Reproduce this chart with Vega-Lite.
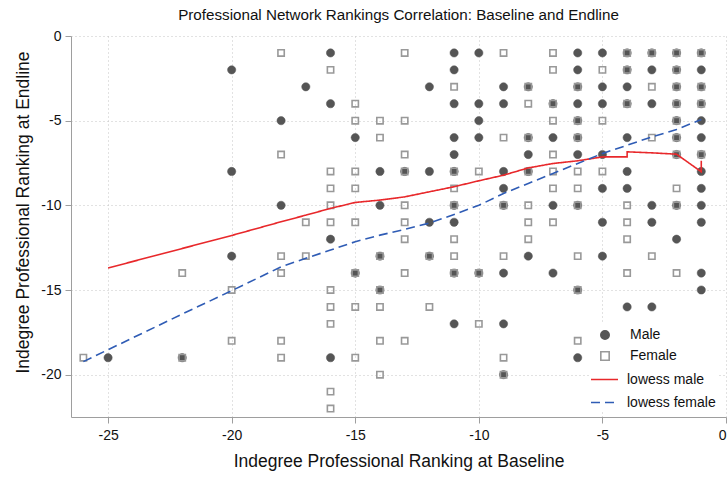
{
  "$schema": "https://vega.github.io/schema/vega-lite/v6.json",
  "width": 655,
  "height": 381,
  "autosize": "none",
  "padding": {"left": 71, "top": 36, "right": 2, "bottom": 60},
  "title": {"text": "Professional Network Rankings Correlation: Baseline and Endline", "fontSize": 15.2, "fontWeight": "normal", "font": "Liberation Sans", "color": "#111111", "offset": 6},
  "datasets": {
    "pts": [
      {"x":-25,"y":-19,"sex":"Male"},{"x":-22,"y":-19,"sex":"Male"},
      {"x":-20,"y":-2,"sex":"Male"},{"x":-20,"y":-8,"sex":"Male"},{"x":-20,"y":-13,"sex":"Male"},
      {"x":-18,"y":-5,"sex":"Male"},{"x":-18,"y":-10,"sex":"Male"},
      {"x":-17,"y":-3,"sex":"Male"},
      {"x":-16,"y":-1,"sex":"Male"},{"x":-16,"y":-4,"sex":"Male"},{"x":-16,"y":-12,"sex":"Male"},{"x":-16,"y":-19,"sex":"Male"},
      {"x":-15,"y":-6,"sex":"Male"},{"x":-15,"y":-14,"sex":"Male"},
      {"x":-14,"y":-8,"sex":"Male"},{"x":-14,"y":-10,"sex":"Male"},{"x":-14,"y":-13,"sex":"Male"},{"x":-14,"y":-15,"sex":"Male"},
      {"x":-13,"y":-8,"sex":"Male"},
      {"x":-12,"y":-3,"sex":"Male"},{"x":-12,"y":-8,"sex":"Male"},{"x":-12,"y":-11,"sex":"Male"},{"x":-12,"y":-13,"sex":"Male"},
      {"x":-11,"y":-1,"sex":"Male"},{"x":-11,"y":-2,"sex":"Male"},{"x":-11,"y":-4,"sex":"Male"},{"x":-11,"y":-6,"sex":"Male"},{"x":-11,"y":-7,"sex":"Male"},{"x":-11,"y":-8,"sex":"Male"},{"x":-11,"y":-10,"sex":"Male"},{"x":-11,"y":-11,"sex":"Male"},{"x":-11,"y":-14,"sex":"Male"},{"x":-11,"y":-17,"sex":"Male"},
      {"x":-10,"y":-1,"sex":"Male"},{"x":-10,"y":-4,"sex":"Male"},{"x":-10,"y":-5,"sex":"Male"},{"x":-10,"y":-6,"sex":"Male"},{"x":-10,"y":-14,"sex":"Male"},
      {"x":-9,"y":-3,"sex":"Male"},{"x":-9,"y":-4,"sex":"Male"},{"x":-9,"y":-8,"sex":"Male"},{"x":-9,"y":-9,"sex":"Male"},{"x":-9,"y":-10,"sex":"Male"},{"x":-9,"y":-14,"sex":"Male"},{"x":-9,"y":-17,"sex":"Male"},{"x":-9,"y":-20,"sex":"Male"},
      {"x":-8,"y":-3,"sex":"Male"},{"x":-8,"y":-6,"sex":"Male"},{"x":-8,"y":-7,"sex":"Male"},{"x":-8,"y":-8,"sex":"Male"},{"x":-8,"y":-13,"sex":"Male"},
      {"x":-7,"y":-4,"sex":"Male"},{"x":-7,"y":-6,"sex":"Male"},{"x":-7,"y":-10,"sex":"Male"},{"x":-7,"y":-14,"sex":"Male"},
      {"x":-6,"y":-1,"sex":"Male"},{"x":-6,"y":-2,"sex":"Male"},{"x":-6,"y":-3,"sex":"Male"},{"x":-6,"y":-4,"sex":"Male"},{"x":-6,"y":-5,"sex":"Male"},{"x":-6,"y":-6,"sex":"Male"},{"x":-6,"y":-7,"sex":"Male"},{"x":-6,"y":-10,"sex":"Male"},{"x":-6,"y":-15,"sex":"Male"},{"x":-6,"y":-19,"sex":"Male"},
      {"x":-5,"y":-1,"sex":"Male"},{"x":-5,"y":-3,"sex":"Male"},{"x":-5,"y":-4,"sex":"Male"},{"x":-5,"y":-7,"sex":"Male"},{"x":-5,"y":-9,"sex":"Male"},{"x":-5,"y":-11,"sex":"Male"},{"x":-5,"y":-13,"sex":"Male"},
      {"x":-4,"y":-1,"sex":"Male"},{"x":-4,"y":-2,"sex":"Male"},{"x":-4,"y":-3,"sex":"Male"},{"x":-4,"y":-4,"sex":"Male"},{"x":-4,"y":-6,"sex":"Male"},{"x":-4,"y":-8,"sex":"Male"},{"x":-4,"y":-9,"sex":"Male"},{"x":-4,"y":-16,"sex":"Male"},
      {"x":-3,"y":-1,"sex":"Male"},{"x":-3,"y":-2,"sex":"Male"},{"x":-3,"y":-4,"sex":"Male"},{"x":-3,"y":-10,"sex":"Male"},{"x":-3,"y":-11,"sex":"Male"},{"x":-3,"y":-16,"sex":"Male"},
      {"x":-2,"y":-1,"sex":"Male"},{"x":-2,"y":-2,"sex":"Male"},{"x":-2,"y":-3,"sex":"Male"},{"x":-2,"y":-4,"sex":"Male"},{"x":-2,"y":-5,"sex":"Male"},{"x":-2,"y":-6,"sex":"Male"},{"x":-2,"y":-7,"sex":"Male"},{"x":-2,"y":-10,"sex":"Male"},{"x":-2,"y":-12,"sex":"Male"},
      {"x":-1,"y":-1,"sex":"Male"},{"x":-1,"y":-2,"sex":"Male"},{"x":-1,"y":-3,"sex":"Male"},{"x":-1,"y":-4,"sex":"Male"},{"x":-1,"y":-5,"sex":"Male"},{"x":-1,"y":-6,"sex":"Male"},{"x":-1,"y":-7,"sex":"Male"},{"x":-1,"y":-8,"sex":"Male"},{"x":-1,"y":-9,"sex":"Male"},{"x":-1,"y":-10,"sex":"Male"},{"x":-1,"y":-11,"sex":"Male"},{"x":-1,"y":-14,"sex":"Male"},{"x":-1,"y":-15,"sex":"Male"},
      {"x":-26,"y":-19,"sex":"Female"},
      {"x":-22,"y":-14,"sex":"Female"},{"x":-22,"y":-19,"sex":"Female"},
      {"x":-20,"y":-15,"sex":"Female"},{"x":-20,"y":-18,"sex":"Female"},
      {"x":-18,"y":-1,"sex":"Female"},{"x":-18,"y":-7,"sex":"Female"},{"x":-18,"y":-13,"sex":"Female"},{"x":-18,"y":-14,"sex":"Female"},{"x":-18,"y":-18,"sex":"Female"},{"x":-18,"y":-19,"sex":"Female"},
      {"x":-17,"y":-11,"sex":"Female"},{"x":-17,"y":-13,"sex":"Female"},
      {"x":-16,"y":-2,"sex":"Female"},{"x":-16,"y":-8,"sex":"Female"},{"x":-16,"y":-9,"sex":"Female"},{"x":-16,"y":-10,"sex":"Female"},{"x":-16,"y":-11,"sex":"Female"},{"x":-16,"y":-15,"sex":"Female"},{"x":-16,"y":-16,"sex":"Female"},{"x":-16,"y":-17,"sex":"Female"},{"x":-16,"y":-21,"sex":"Female"},{"x":-16,"y":-22,"sex":"Female"},
      {"x":-15,"y":-4,"sex":"Female"},{"x":-15,"y":-5,"sex":"Female"},{"x":-15,"y":-8,"sex":"Female"},{"x":-15,"y":-9,"sex":"Female"},{"x":-15,"y":-11,"sex":"Female"},{"x":-15,"y":-14,"sex":"Female"},{"x":-15,"y":-16,"sex":"Female"},{"x":-15,"y":-19,"sex":"Female"},
      {"x":-14,"y":-5,"sex":"Female"},{"x":-14,"y":-6,"sex":"Female"},{"x":-14,"y":-13,"sex":"Female"},{"x":-14,"y":-15,"sex":"Female"},{"x":-14,"y":-16,"sex":"Female"},{"x":-14,"y":-18,"sex":"Female"},{"x":-14,"y":-20,"sex":"Female"},
      {"x":-13,"y":-1,"sex":"Female"},{"x":-13,"y":-5,"sex":"Female"},{"x":-13,"y":-7,"sex":"Female"},{"x":-13,"y":-8,"sex":"Female"},{"x":-13,"y":-10,"sex":"Female"},{"x":-13,"y":-11,"sex":"Female"},{"x":-13,"y":-12,"sex":"Female"},{"x":-13,"y":-14,"sex":"Female"},{"x":-13,"y":-18,"sex":"Female"},
      {"x":-12,"y":-13,"sex":"Female"},{"x":-12,"y":-16,"sex":"Female"},
      {"x":-11,"y":-3,"sex":"Female"},{"x":-11,"y":-8,"sex":"Female"},{"x":-11,"y":-9,"sex":"Female"},{"x":-11,"y":-10,"sex":"Female"},{"x":-11,"y":-12,"sex":"Female"},{"x":-11,"y":-13,"sex":"Female"},{"x":-11,"y":-14,"sex":"Female"},
      {"x":-10,"y":-8,"sex":"Female"},{"x":-10,"y":-14,"sex":"Female"},{"x":-10,"y":-17,"sex":"Female"},
      {"x":-9,"y":-1,"sex":"Female"},{"x":-9,"y":-6,"sex":"Female"},{"x":-9,"y":-10,"sex":"Female"},{"x":-9,"y":-13,"sex":"Female"},{"x":-9,"y":-19,"sex":"Female"},{"x":-9,"y":-20,"sex":"Female"},
      {"x":-8,"y":-3,"sex":"Female"},{"x":-8,"y":-4,"sex":"Female"},{"x":-8,"y":-6,"sex":"Female"},{"x":-8,"y":-8,"sex":"Female"},{"x":-8,"y":-10,"sex":"Female"},{"x":-8,"y":-11,"sex":"Female"},{"x":-8,"y":-12,"sex":"Female"},
      {"x":-7,"y":-1,"sex":"Female"},{"x":-7,"y":-2,"sex":"Female"},{"x":-7,"y":-4,"sex":"Female"},{"x":-7,"y":-5,"sex":"Female"},{"x":-7,"y":-7,"sex":"Female"},{"x":-7,"y":-8,"sex":"Female"},{"x":-7,"y":-9,"sex":"Female"},{"x":-7,"y":-11,"sex":"Female"},
      {"x":-6,"y":-3,"sex":"Female"},{"x":-6,"y":-5,"sex":"Female"},{"x":-6,"y":-6,"sex":"Female"},{"x":-6,"y":-8,"sex":"Female"},{"x":-6,"y":-9,"sex":"Female"},{"x":-6,"y":-10,"sex":"Female"},{"x":-6,"y":-13,"sex":"Female"},{"x":-6,"y":-15,"sex":"Female"},{"x":-6,"y":-18,"sex":"Female"},
      {"x":-5,"y":-2,"sex":"Female"},{"x":-5,"y":-5,"sex":"Female"},{"x":-5,"y":-8,"sex":"Female"},
      {"x":-4,"y":-1,"sex":"Female"},{"x":-4,"y":-2,"sex":"Female"},{"x":-4,"y":-4,"sex":"Female"},{"x":-4,"y":-10,"sex":"Female"},{"x":-4,"y":-11,"sex":"Female"},{"x":-4,"y":-12,"sex":"Female"},{"x":-4,"y":-14,"sex":"Female"},
      {"x":-3,"y":-1,"sex":"Female"},{"x":-3,"y":-3,"sex":"Female"},{"x":-3,"y":-6,"sex":"Female"},{"x":-3,"y":-13,"sex":"Female"},
      {"x":-2,"y":-1,"sex":"Female"},{"x":-2,"y":-2,"sex":"Female"},{"x":-2,"y":-3,"sex":"Female"},{"x":-2,"y":-4,"sex":"Female"},{"x":-2,"y":-5,"sex":"Female"},{"x":-2,"y":-6,"sex":"Female"},{"x":-2,"y":-7,"sex":"Female"},{"x":-2,"y":-9,"sex":"Female"},{"x":-2,"y":-10,"sex":"Female"},{"x":-2,"y":-14,"sex":"Female"},
      {"x":-1,"y":-1,"sex":"Female"},{"x":-1,"y":-3,"sex":"Female"},{"x":-1,"y":-4,"sex":"Female"},{"x":-1,"y":-7,"sex":"Female"}
    ],
    "lw": [
      {"x":-25,"y":-13.7,"series":"lowess male","ord":1},
      {"x":-20,"y":-11.78,"series":"lowess male","ord":2},
      {"x":-18,"y":-10.97,"series":"lowess male","ord":3},
      {"x":-17,"y":-10.58,"series":"lowess male","ord":4},
      {"x":-16,"y":-10.18,"series":"lowess male","ord":5},
      {"x":-15,"y":-9.83,"series":"lowess male","ord":6},
      {"x":-14,"y":-9.69,"series":"lowess male","ord":7},
      {"x":-13,"y":-9.5,"series":"lowess male","ord":8},
      {"x":-12,"y":-9.2,"series":"lowess male","ord":9},
      {"x":-11,"y":-8.9,"series":"lowess male","ord":10},
      {"x":-10,"y":-8.55,"series":"lowess male","ord":11},
      {"x":-9,"y":-8.22,"series":"lowess male","ord":12},
      {"x":-8,"y":-7.79,"series":"lowess male","ord":13},
      {"x":-7,"y":-7.53,"series":"lowess male","ord":14},
      {"x":-6,"y":-7.37,"series":"lowess male","ord":15},
      {"x":-5,"y":-7.14,"series":"lowess male","ord":16},
      {"x":-4,"y":-7.14,"series":"lowess male","ord":17},
      {"x":-4,"y":-6.84,"series":"lowess male","ord":18},
      {"x":-3,"y":-6.9,"series":"lowess male","ord":19},
      {"x":-2,"y":-6.98,"series":"lowess male","ord":20},
      {"x":-1,"y":-8.02,"series":"lowess male","ord":21},
      {"x":-1,"y":-7.37,"series":"lowess male","ord":22},
      {"x":-26,"y":-19.23,"series":"lowess female","ord":1},
      {"x":-22,"y":-16.42,"series":"lowess female","ord":2},
      {"x":-20,"y":-15.04,"series":"lowess female","ord":3},
      {"x":-18,"y":-13.63,"series":"lowess female","ord":4},
      {"x":-17,"y":-13.13,"series":"lowess female","ord":5},
      {"x":-16,"y":-12.64,"series":"lowess female","ord":6},
      {"x":-15,"y":-12.15,"series":"lowess female","ord":7},
      {"x":-14,"y":-11.76,"series":"lowess female","ord":8},
      {"x":-13,"y":-11.42,"series":"lowess female","ord":9},
      {"x":-12,"y":-11.05,"series":"lowess female","ord":10},
      {"x":-11,"y":-10.54,"series":"lowess female","ord":11},
      {"x":-10,"y":-10.0,"series":"lowess female","ord":12},
      {"x":-9,"y":-9.3,"series":"lowess female","ord":13},
      {"x":-8,"y":-8.71,"series":"lowess female","ord":14},
      {"x":-7,"y":-8.12,"series":"lowess female","ord":15},
      {"x":-6,"y":-7.53,"series":"lowess female","ord":16},
      {"x":-5,"y":-6.94,"series":"lowess female","ord":17},
      {"x":-4,"y":-6.45,"series":"lowess female","ord":18},
      {"x":-3,"y":-5.96,"series":"lowess female","ord":19},
      {"x":-2,"y":-5.52,"series":"lowess female","ord":20},
      {"x":-1,"y":-4.93,"series":"lowess female","ord":21}
    ]
  },
  "encoding": {
    "x": {"field": "x", "type": "quantitative",
      "scale": {"domain": [-26.5, 0], "nice": false, "zero": false},
      "axis": {"values": [-25, -20, -15, -10, -5, 0], "title": "Indegree Professional Ranking at Baseline", "labelExpr": "'' + datum.value", "labelPadding": 5, "titlePadding": 10}},
    "y": {"field": "y", "type": "quantitative",
      "scale": {"domain": [-22.5, 0], "nice": false, "zero": false},
      "axis": {"values": [-20, -15, -10, -5, 0], "title": "Indegree Professional Ranking at Endline", "labelExpr": "'' + datum.value", "labelPadding": 4, "titlePadding": 8, "titleY": 176}}
  },
  "layer": [
    {
      "data": {"name": "pts"},
      "transform": [{"filter": "datum.sex === 'Male'"}],
      "mark": {"type": "point", "opacity": 1, "size": 68, "strokeWidth": 0.5},
      "encoding": {
        "shape": {"field": "sex", "type": "nominal", "scale": {"domain": ["Male", "Female"], "range": ["circle", "square"]},
          "legend": {"orient": "none", "legendX": 521, "legendY": 286, "title": null, "fillColor": "white", "padding": 6, "symbolSize": 70, "symbolStrokeWidth": 1.6, "labelFontSize": 14, "labelOffset": 18, "rowPadding": 5, "labelColor": "#111111"}},
        "fill": {"field": "sex", "type": "nominal", "scale": {"domain": ["Male", "Female"], "range": ["#555555", "transparent"]},
          "legend": {"orient": "none", "legendX": 521, "legendY": 286, "title": null, "fillColor": "white", "padding": 6, "symbolSize": 70, "symbolStrokeWidth": 1.6, "labelFontSize": 14, "labelOffset": 18, "rowPadding": 5, "labelColor": "#111111"}},
        "stroke": {"field": "sex", "type": "nominal", "scale": {"domain": ["Male", "Female"], "range": ["#555555", "#999999"]},
          "legend": {"orient": "none", "legendX": 521, "legendY": 286, "title": null, "fillColor": "white", "padding": 6, "symbolSize": 70, "symbolStrokeWidth": 1.6, "labelFontSize": 14, "labelOffset": 18, "rowPadding": 5, "labelColor": "#111111"}}
      }
    },
    {
      "data": {"name": "pts"},
      "transform": [{"filter": "datum.sex === 'Female'"}],
      "mark": {"type": "point", "opacity": 1, "size": 40, "strokeWidth": 1.6},
      "encoding": {
        "shape": {"field": "sex", "type": "nominal", "scale": {"domain": ["Male", "Female"], "range": ["circle", "square"]},
          "legend": {"orient": "none", "legendX": 521, "legendY": 286, "title": null, "fillColor": "white", "padding": 6, "symbolSize": 70, "symbolStrokeWidth": 1.6, "labelFontSize": 14, "labelOffset": 18, "rowPadding": 5, "labelColor": "#111111"}},
        "fill": {"field": "sex", "type": "nominal", "scale": {"domain": ["Male", "Female"], "range": ["#555555", "transparent"]},
          "legend": {"orient": "none", "legendX": 521, "legendY": 286, "title": null, "fillColor": "white", "padding": 6, "symbolSize": 70, "symbolStrokeWidth": 1.6, "labelFontSize": 14, "labelOffset": 18, "rowPadding": 5, "labelColor": "#111111"}},
        "stroke": {"field": "sex", "type": "nominal", "scale": {"domain": ["Male", "Female"], "range": ["#555555", "#999999"]},
          "legend": {"orient": "none", "legendX": 521, "legendY": 286, "title": null, "fillColor": "white", "padding": 6, "symbolSize": 70, "symbolStrokeWidth": 1.6, "labelFontSize": 14, "labelOffset": 18, "rowPadding": 5, "labelColor": "#111111"}}
      }
    },
    {
      "data": {"name": "lw"},
      "mark": {"type": "line", "strokeWidth": 1.6},
      "encoding": {
        "color": {"field": "series", "type": "nominal", "scale": {"domain": ["lowess male", "lowess female"], "range": ["#e8282b", "#2f5cb5"]},
          "legend": {"orient": "none", "legendX": 518, "legendY": 328, "title": null, "fillColor": "white", "padding": 1, "symbolType": "stroke", "symbolSize": 729, "symbolStrokeWidth": 1.6, "labelFontSize": 14, "labelOffset": 8, "rowPadding": 1, "labelColor": "#111111"}},
        "strokeDash": {"field": "series", "type": "nominal", "scale": {"domain": ["lowess male", "lowess female"], "range": [[1, 0], [9, 5]]},
          "legend": {"orient": "none", "legendX": 518, "legendY": 328, "title": null, "fillColor": "white", "padding": 1, "symbolType": "stroke", "symbolSize": 729, "symbolStrokeWidth": 1.6, "labelFontSize": 14, "labelOffset": 8, "rowPadding": 1, "labelColor": "#111111"}},
        "order": {"field": "ord", "type": "quantitative"}
      }
    }
  ],
  "config": {
    "view": {"stroke": null},
    "font": "Liberation Sans",
    "axis": {"domainColor": "#9e9e9e", "tickColor": "#9e9e9e", "tickSize": 6, "labelFont": "Liberation Sans", "labelFontSize": 14, "labelColor": "#111111", "titleFont": "Liberation Sans", "titleFontSize": 17.5, "titleFontWeight": "normal", "titleColor": "#111111", "gridColor": "#c4c4c4", "gridDash": [1, 3], "gridWidth": 1},
    "legend": {"labelFont": "Liberation Sans"}
  }
}
